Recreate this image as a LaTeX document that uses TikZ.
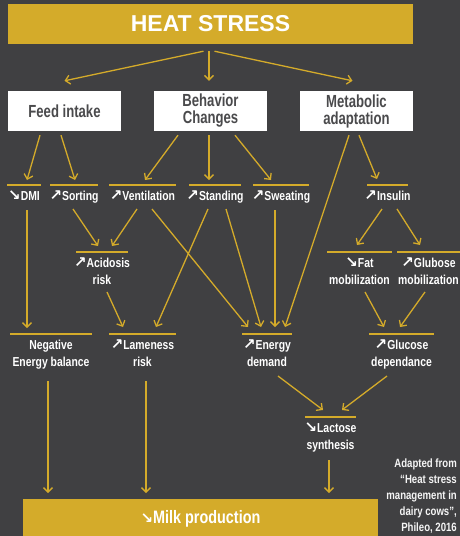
\documentclass[tikz,border=0pt]{standalone}
\usepackage{fontspec}
\setmainfont{Liberation Sans}
\newfontfamily\condfont[FakeStretch=0.8]{Liberation Sans}
\newfontfamily\narrowfont[FakeStretch=0.75]{Liberation Sans}
\newfontfamily\symfont{DejaVu Sans}
\usetikzlibrary{calc,arrows.meta}

\definecolor{bg}{HTML}{404042}
\definecolor{gold}{HTML}{D4AB2A}
\definecolor{boxtext}{HTML}{4A4A4C}
\newcommand{\upar}{{\symfont\bfseries\fontsize{15}{10}\selectfont ↗}}
\newcommand{\dnar}{{\symfont\bfseries\fontsize{15}{10}\selectfont ↘}}

\begin{document}
\begin{tikzpicture}[x=1pt,y=-1pt,
  >={Straight Barb[length=4.5pt,width=9pt]},
  conn/.style={->,draw=gold,line width=1.3pt},
  title/.style={fill=gold,text=white,minimum width=405pt,minimum height=40pt,inner sep=0pt,
    font=\bfseries\fontsize{23}{23}\selectfont},
  wbox/.style={fill=white,text=boxtext,minimum width=113pt,minimum height=40pt,inner sep=0pt,
    align=center,font=\narrowfont\bfseries\fontsize{17.5}{17}\selectfont},
  lvl/.style={anchor=north,text=white,align=center,inner xsep=0pt,inner ysep=5.5pt,
    font=\condfont\bfseries\fontsize{13}{17}\selectfont,
    append after command={([xshift=-#1/2]\tikzlastnode.north) edge[-,draw=gold,line width=2pt]
      ([xshift=#1/2]\tikzlastnode.north)}},
  note/.style={anchor=north east,text=white!92!gray,align=right,inner sep=0pt,
    font=\condfont\bfseries\fontsize{12}{16}\selectfont}]

  \fill[bg] (0,0) rectangle (460,536);
  \useasboundingbox (0,0) rectangle (460,536);

  \node[title] (heat) at (210.5,24) {HEAT STRESS};
  \node[wbox] (feed) at (64.5,111) {Feed intake};
  \node[wbox] (behav) at (210.5,111) {Behavior\\Changes};
  \node[wbox] (metab) at (356.5,111) {Metabolic\\adaptation};

  \node[lvl=34] (dmi) at (24,185) {\dnar DMI};
  \node[lvl=48] (sort) at (74,185) {\upar Sorting};
  \node[lvl=67] (vent) at (142.5,185) {\upar Ventilation};
  \node[lvl=52] (stand) at (215,185) {\upar Standing};
  \node[lvl=56] (sweat) at (281,185) {\upar Sweating};
  \node[lvl=41] (ins) at (387.5,185) {\upar Insulin};

  \node[lvl=52] (acid) at (102,252) {\upar Acidosis\\risk};
  \node[lvl=65] (fat) at (359.5,252) {\dnar Fat\\mobilization};
  \node[lvl=63] (glub) at (428.5,252) {\upar Glubose\\mobilization};

  \node[lvl=82] (neg) at (51,334) {Negative\\Energy balance};
  \node[lvl=67] (lame) at (142.5,334) {\upar Lameness\\risk};
  \node[lvl=50] (energy) at (267,334) {\upar Energy\\demand};
  \node[lvl=65] (gluc) at (401.5,334) {\upar Glucose\\dependance};

  \node[lvl=51] (lact) at (330.5,417) {\dnar Lactose\\synthesis};

  \node[title,anchor=north,minimum width=355pt,font=\condfont\bfseries\fontsize{18}{18}\selectfont]
    (milk) at (200.5,499) {\dnar Milk production};

  \node[note] (src) at (457,459) {Adapted from\\“Heat stress\\management in\\dairy cows”,\\Phileo, 2016};

  % heat stress
  \draw[conn] ($(heat.south)+(-7,7)$) -- ($(feed.north)+(0,-10)$);
  \draw[conn] ($(heat.south)+(-1.5,7)$) -- ($(behav.north)+(-1.5,-10)$);
  \draw[conn] ($(heat.south)+(4,7)$) -- ($(metab.north)+(-4,-10)$);

  % second row
  \draw[conn] ($(feed.south)+(-24.5,4)$) -- ($(dmi.north)+(3,-5)$);
  \draw[conn] ($(feed.south)+(-3.5,4)$) -- ($(sort.north)+(1,-5)$);
  \draw[conn] ($(behav.south)+(-32.5,4)$) -- ($(vent.north)+(2.5,-5)$);
  \draw[conn] ($(behav.south)+(-1.5,4)$) -- ($(stand.north)+(-6,-5)$);
  \draw[conn] ($(behav.south)+(24.5,4)$) -- ($(sweat.north)+(-10,-5)$);
  \draw[conn] ($(metab.south)+(2.5,4)$) -- ($(ins.north)+(-10.5,-6)$);

  % third row
  \draw[conn] ($(sort.north)+(-1,24)$) -- ($(acid.north)+(-4,-6)$);
  \draw[conn] ($(vent.north)+(-5.5,24)$) -- ($(acid.north)+(10,-6)$);
  \draw[conn] ($(ins.north)+(-5.5,24)$) -- ($(fat.north)+(-2.5,-7)$);
  \draw[conn] ($(ins.north)+(9.5,24)$) -- ($(glub.north)+(-8.5,-7)$);

  % fourth row
  \draw[conn] ($(dmi.north)+(3,25)$) -- ($(neg.north)+(-24,-6)$);
  \draw[conn] ($(acid.north)+(5,40)$) -- ($(lame.north)+(-19.5,-7)$);
  \draw[conn] ($(stand.north)+(-7,24)$) -- ($(lame.north)+(13.5,-7)$);
  \draw[conn] ($(vent.north)+(9.5,24)$) -- ($(energy.north)+(-19,-7)$);
  \draw[conn] ($(stand.north)+(11,24)$) -- ($(energy.north)+(-6,-7)$);
  \draw[conn] ($(sweat.north)+(-6,25)$) -- ($(energy.north)+(8,-7)$);
  \draw[conn] ($(metab.south)+(-7.5,4)$) -- ($(energy.north)+(18,-7)$);
  \draw[conn] ($(fat.north)+(5.5,40)$) -- ($(gluc.north)+(-17.5,-7)$);
  \draw[conn] ($(glub.north)+(-3.5,40)$) -- ($(gluc.north)+(-1.5,-7)$);

  % lactose and milk
  \draw[conn] ($(energy.north)+(11,42)$) -- ($(lact.north)+(-7.5,-7)$);
  \draw[conn] ($(gluc.north)+(-14.5,42)$) -- ($(lact.north)+(11.5,-7)$);
  \draw[conn] ($(neg.north)+(-3,47)$) -- ($(milk.north)+(-152.5,-6)$);
  \draw[conn] ($(lame.north)+(3.5,47)$) -- ($(milk.north)+(-54.5,-6)$);
  \draw[conn] ($(lact.north)+(-1.5,43)$) -- ($(milk.north)+(128.5,-6)$);
\end{tikzpicture}
\end{document}
